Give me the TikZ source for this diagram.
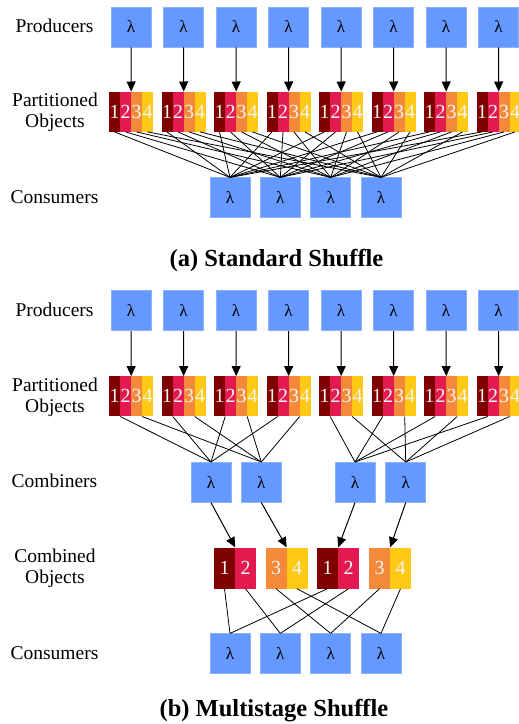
\documentclass[tikz,border=0pt]{standalone}
\usepackage{fontspec}
\setmainfont{Liberation Serif}
\usetikzlibrary{arrows.meta}
\definecolor{lamblue}{HTML}{6699FF}
\definecolor{lamedge}{HTML}{8CB2FF}
\definecolor{pone}{HTML}{800000}
\definecolor{ptwo}{HTML}{E31A4F}
\definecolor{pthree}{HTML}{F5893A}
\definecolor{pfour}{HTML}{FFC915}
\definecolor{digitcol}{HTML}{F4F4F4}
\begin{document}
\begin{tikzpicture}[x=1pt,y=-1pt,
  lam/.style={rectangle, fill=lamblue, draw=lamedge, line width=0.6pt,
    minimum width=40pt, minimum height=40pt, inner sep=0pt,
    font=\fontsize{17}{17}\selectfont},
  stripe/.style={rectangle, inner sep=0pt, minimum width=11pt,
    minimum height=40pt, text=digitcol, font=\fontsize{20}{20}\selectfont},
  widestripe/.style={stripe, minimum width=21pt, minimum height=41pt},
  lbl/.style={inner sep=0pt, anchor=base, font=\fontsize{19.5}{20.7}\selectfont, align=center},
  captext/.style={inner sep=0pt, anchor=base, font=\fontsize{24.5}{24.5}\selectfont\bfseries},
  link/.style={line width=0.8pt, black},
  arr/.style={line width=1pt, black, -{Triangle[length=10pt,width=9pt]}},
]
\useasboundingbox (0,0) rectangle (519,724);

% ---------- (a) Standard Shuffle ----------
\node[lbl] (la1) at (54.5,32) {Producers};
\node[lbl] (la2) at (55,127) {Partitioned\\Objects};
\node[lbl] (la3) at (54.5,203) {Consumers};

\foreach \j in {1,...,4} {
  \pgfmathsetmacro\kx{230+50.333*(\j-1)}
  \node[lam] (ca\j) at (\kx,197.7) {λ};
}
\foreach \i in {1,...,8} {
  \pgfmathsetmacro\cx{131+52.5*(\i-1)}
  \node[lam] (pa\i) at (\cx,27) {λ};
  \foreach \j/\c in {1/pone,2/ptwo,3/pthree,4/pfour} {
    \node[stripe, fill=\c] (oa\i-\j) at (\cx-27.5+11*\j,111.7) {\j};
  }
  \draw[arr] (pa\i.south) -- (oa\i-2.north east);
  \foreach \j in {1,...,4} {
    \draw[link] (oa\i-\j.south) -- (ca\j.north);
  }
}
\node[captext] (capa) at (276.5,266.5) {(a) Standard Shuffle};

% ---------- (b) Multistage Shuffle ----------
\node[lbl] (lb1) at (54.5,316) {Producers};
\node[lbl] (lb2) at (55,412.3) {Partitioned\\Objects};
\node[lbl] (lb3) at (54.5,487.7) {Combiners};
\node[lbl] (lb4) at (55,583) {Combined\\Objects};
\node[lbl] (lb5) at (54.5,659.3) {Consumers};

\foreach \k/\mx in {1/211,2/261.3,3/355,4/405.7} {
  \node[lam] (mb\k) at (\mx,482.3) {λ};
}
\foreach \j in {1,...,4} {
  \pgfmathsetmacro\kx{230+50.333*(\j-1)}
  \node[lam] (cnb\j) at (\kx,653.7) {λ};
}
\foreach \i in {1,...,8} {
  \pgfmathsetmacro\cx{131+52.5*(\i-1)}
  \node[lam] (pb\i) at (\cx,310.7) {λ};
  \foreach \j/\c in {1/pone,2/ptwo,3/pthree,4/pfour} {
    \node[stripe, fill=\c] (ob\i-\j) at (\cx-27.5+11*\j,396.3) {\j};
  }
  \draw[arr] (pb\i.south) -- (ob\i-2.north east);
}
\foreach \i in {1,...,4} {
  \draw[link] (ob\i-1.south east) -- (mb1.north);
  \draw[link] (ob\i-3.south east) -- (mb2.north);
}
\foreach \i in {5,...,8} {
  \draw[link] (ob\i-1.south east) -- (mb3.north);
  \draw[link] (ob\i-3.south east) -- (mb4.north);
}
% combined objects
\foreach \k/\lx/\da/\db/\ca/\cb in {1/214/1/2/pone/ptwo, 2/265.5/3/4/pthree/pfour,
                                   3/317/1/2/pone/ptwo, 4/369/3/4/pthree/pfour} {
  \node[widestripe, fill=\ca] (cb\k-1) at (\lx+10.5,568) {\da};
  \node[widestripe, fill=\cb] (cb\k-2) at (\lx+31.5,568) {\db};
  \draw[arr] (mb\k.south) -- (cb\k-1.north east);
}
\foreach \k in {1,3} {
  \draw[link] (cb\k-1.south) -- (cnb1.north);
  \draw[link] (cb\k-2.south) -- (cnb2.north);
}
\foreach \k in {2,4} {
  \draw[link] (cb\k-1.south) -- (cnb3.north);
  \draw[link] (cb\k-2.south) -- (cnb4.north);
}
\node[captext] (capb) at (274,716) {(b) Multistage Shuffle};
\end{tikzpicture}
\end{document}
